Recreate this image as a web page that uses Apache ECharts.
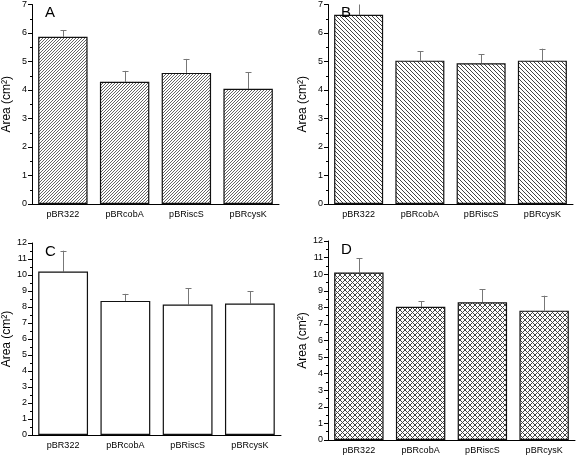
<!DOCTYPE html>
<html><head><meta charset="utf-8">
<script src="https://cdn.jsdelivr.net/npm/echarts@6/dist/echarts.min.js"></script>
<style>html,body{margin:0;padding:0;background:#fff}#c{width:576px;height:458px}</style>
</head><body><div id="c"></div>
<script>
const categories = ['pBR322', 'pBRcobA', 'pBRiscS', 'pBRcysK'];
const panelLabels = ['A', 'B', 'C', 'D'];
const meanA = [5.87, 4.29, 4.60, 4.04];
const upperA = [6.10, 4.67, 5.09, 4.62];
const meanB = [6.64, 5.03, 4.94, 5.03];
const upperB = [7.10, 5.36, 5.26, 5.45];
const meanC = [10.22, 8.38, 8.16, 8.22];
const upperC = [11.52, 8.82, 9.18, 9.00];
const meanD = [10.10, 8.03, 8.30, 7.80];
const upperD = [10.95, 8.36, 9.08, 8.70];
const yMax = [7, 7, 12, 12];

const means = [meanA, meanB, meanC, meanD];
const uppers = [upperA, upperB, upperC, upperD];

function makeTile(kind) {
  const s = kind === 'cross' ? 5 : (kind === 'slash' ? 3 : 4);
  const c = document.createElement('canvas');
  c.width = s; c.height = s;
  const g = c.getContext('2d');
  g.fillStyle = '#fff'; g.fillRect(0, 0, s, s);
  g.strokeStyle = kind === 'slash' ? '#666' : '#444';
  g.lineWidth = 1;
  function diag(rev) {
    g.beginPath();
    for (let k = -1; k <= 1; k++) {
      if (!rev) { g.moveTo(k * s, s); g.lineTo(k * s + s, 0); }
      else { g.moveTo(k * s, 0); g.lineTo(k * s + s, s); }
    }
    g.stroke();
  }
  if (kind === 'slash') diag(false);
  else if (kind === 'back') diag(true);
  else if (kind === 'cross') { diag(false); diag(true); }
  return c;
}
const fills = [
  {image: makeTile('slash'), repeat: 'repeat'},
  {image: makeTile('back'), repeat: 'repeat'},
  '#ffffff',
  {image: makeTile('cross'), repeat: 'repeat'}
];

const grids = [
  {left: 32, top: 4, width: 247, height: 200},
  {left: 328, top: 4, width: 245, height: 200},
  {left: 32, top: 243, width: 249, height: 192},
  {left: 328, top: 241, width: 247, height: 199}
];

const font = 'Arial, "Liberation Sans", sans-serif';
const xAxes = [], yAxes = [], series = [], titles = [];
for (let i = 0; i < 4; i++) {
  xAxes.push({
    type: 'category', gridIndex: i, data: categories,
    axisLine: {lineStyle: {color: '#000', width: 1}},
    axisTick: {alignWithLabel: true, length: 4, lineStyle: {color: '#000'}},
    axisLabel: {fontFamily: font, fontSize: 9, color: '#000', margin: 6}
  });
  yAxes.push({
    type: 'value', gridIndex: i, min: 0, max: yMax[i], interval: 1,
    name: 'Area (cm²)', nameLocation: 'middle', nameGap: 19,
    nameTextStyle: {fontFamily: font, fontSize: 12, color: '#000'},
    axisLine: {show: true, lineStyle: {color: '#000', width: 1}},
    axisTick: {show: true, length: 4, lineStyle: {color: '#000'}},
    minorTick: {show: true, splitNumber: 2, length: 2, lineStyle: {color: '#000'}},
    splitLine: {show: false},
    axisLabel: {fontFamily: font, fontSize: 9, color: '#000', margin: 5}
  });
  series.push({
    type: 'bar', xAxisIndex: i, yAxisIndex: i, data: means[i],
    barWidth: '80%',
    itemStyle: {color: fills[i], borderColor: '#111', borderWidth: 1.2},
    silent: true, animation: false
  });
  const errData = means[i].map((m, j) => [j, m, uppers[i][j]]);
  series.push({
    type: 'custom', xAxisIndex: i, yAxisIndex: i, data: errData,
    animation: false, silent: true, z: 1, clip: true,
    renderItem: function (params, api) {
      const lo = api.coord([api.value(0), api.value(1)]);
      const hi = api.coord([api.value(0), api.value(2)]);
      const x = Math.round(lo[0]) + 0.5;
      return {
        type: 'group',
        children: [
          {type: 'line', shape: {x1: x, y1: lo[1], x2: x, y2: hi[1]}, style: {stroke: '#777', lineWidth: 1}},
          {type: 'line', shape: {x1: x - 3, y1: Math.round(hi[1]) + 0.5, x2: x + 3, y2: Math.round(hi[1]) + 0.5}, style: {stroke: '#777', lineWidth: 1}}
        ]
      };
    }
  });
  titles.push({
    text: panelLabels[i], left: grids[i].left + 8, top: grids[i].top - 4,
    textStyle: {fontFamily: font, fontSize: 15, fontWeight: 'normal', color: '#000'}
  });
}

const chart = echarts.init(document.getElementById('c'), null, {renderer: 'canvas'});
chart.setOption({
  animation: false,
  title: titles,
  grid: grids,
  xAxis: xAxes,
  yAxis: yAxes,
  series: series
});
</script></body></html>
